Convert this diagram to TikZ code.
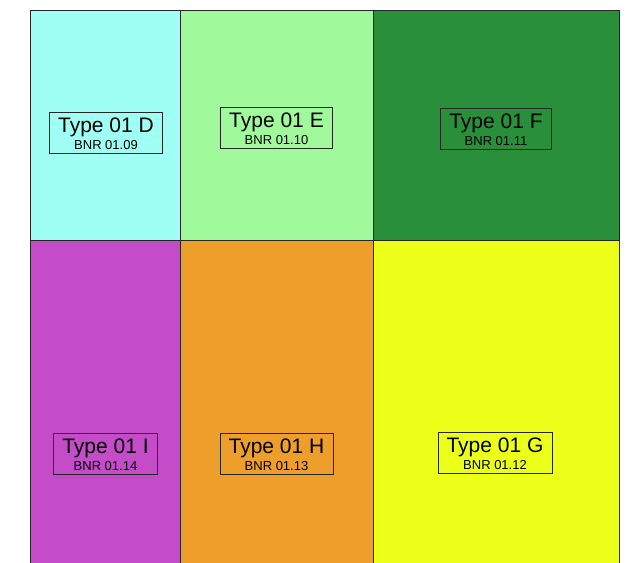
\documentclass[tikz,border=0pt]{standalone}
\usepackage{fontspec}
\setmainfont{Liberation Sans}
\usetikzlibrary{fit}
\definecolor{cD}{RGB}{160,255,245}
\definecolor{cE}{RGB}{160,250,155}
\definecolor{cF}{RGB}{42,143,58}
\definecolor{cI}{RGB}{196,76,200}
\definecolor{cH}{RGB}{238,158,42}
\definecolor{cG}{RGB}{235,255,25}
\tikzset{
  cell/.style={draw=black!85, line width=0.9pt},
  typet/.style={inner sep=0pt, font=\fontsize{21}{21}\selectfont},
  bnrt/.style={inner sep=0pt, font=\fontsize{13}{13}\selectfont},
  lblbox/.style={draw=black!85, line width=0.7pt, inner ysep=0pt, inner xsep=8.5pt},
}
\newcommand{\lbl}[5]{%
  \node[typet, anchor=base] (#1t) at (#2,#3+20) {#4};
  \node[bnrt, anchor=base] (#1b) at (#2,#3+37) {#5};
  \coordinate (#1p) at (#2,#3);
  \coordinate (#1q) at (#2,#3+41);
  \node[lblbox, fit={(#1t.west |- #1p) (#1t.east |- #1q)}] (#1box) {};
}
\begin{document}
\begin{tikzpicture}[x=1pt,y=-1pt]
\useasboundingbox (0,0) rectangle (631,562);
\clip (0,0) rectangle (631,562);
\fill[white] (0,0) rectangle (631,562);
\draw[cell, fill=cD] (30.5,10) rectangle (180.5,240);
\draw[cell, fill=cE] (180.5,10) rectangle (373,240);
\draw[cell, fill=cF] (373,10) rectangle (619.5,240);
\draw[cell, fill=cI] (30.5,240) rectangle (180.5,575);
\draw[cell, fill=cH] (180.5,240) rectangle (373,575);
\draw[cell, fill=cG] (373,240) rectangle (619.5,575);
\lbl{D}{106}{112}{Type 01 D}{BNR 01.09}
\lbl{E}{276.5}{107.5}{Type 01 E}{BNR 01.10}
\lbl{F}{496}{108}{Type 01 F}{BNR 01.11}
\lbl{I}{105.5}{433}{Type 01 I}{BNR 01.14}
\lbl{H}{276.5}{433}{Type 01 H}{BNR 01.13}
\lbl{G}{495}{432.5}{Type 01 G}{BNR 01.12}
\end{tikzpicture}
\end{document}
